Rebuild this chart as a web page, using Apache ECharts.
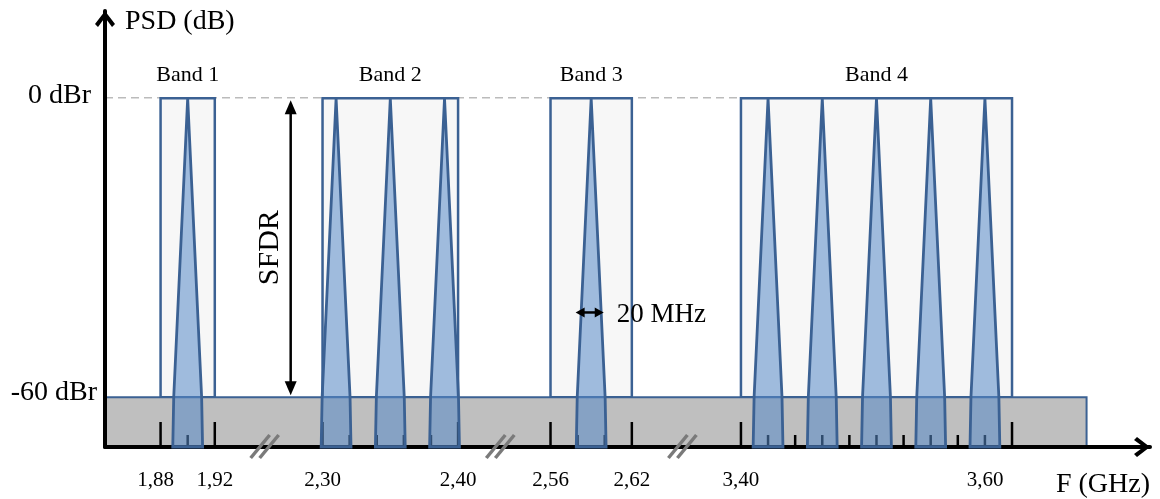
<!DOCTYPE html>
<html><head><meta charset="utf-8">
<script src="https://cdn.jsdelivr.net/npm/echarts@6/dist/echarts.min.js"></script>
<style>html,body{margin:0;padding:0;background:#fff}#c{width:1160px;height:499px}</style>
</head><body><div id="c"></div>
<script>
// ---------------- data ----------------
const bandNames = ['Band 1', 'Band 2', 'Band 3', 'Band 4'];
const bandStartGHz = [1.88, 2.30, 2.56, 3.40];
const bandEndGHz = [1.92, 2.40, 2.62, 3.60];
const carrierGHz = [1.90, 2.31, 2.35, 2.39, 2.59, 3.42, 3.46, 3.50, 3.54, 3.58];
const majorTickGHz = [1.88, 1.92, 2.30, 2.40, 2.56, 2.62, 3.40, 3.60];
const majorTickLabels = ['1,88', '1,92', '2,30', '2,40', '2,56', '2,62', '3,40', '3,60'];
const minorTickGHz = [1.90, 2.32, 2.34, 2.36, 2.38, 2.58, 2.60, 3.42, 3.44, 3.46, 3.48, 3.50, 3.52, 3.54, 3.56, 3.58];
const levelLabels = ['0 dBr', '-60 dBr'];
const levelValuesDB = [0, -60];
const carrierTopDB = 0, floorDB = -60, axisBottomDB = -70;
const carrierHalfWidthAtFloorMHz = 10.3, carrierHalfWidthAtBottomMHz = 11;
const noiseFloorEndGHz = 3.655;
const spacingMarkerGHz = 2.59, spacingMarkerMHz = 20, spacingMarkerDB = -43;
const spacingLabel = '20 MHz', sfdrLabel = 'SFDR';

// ---------------- broken-axis layout ----------------
const segments = [
  {lo: 1.7, hi: 2.1, f0: 1.88, u0: 41},
  {lo: 2.1, hi: 2.5, f0: 2.30, u0: 160.5},
  {lo: 2.5, hi: 3.0, f0: 2.56, u0: 328.7},
  {lo: 3.0, hi: 4.0, f0: 3.40, u0: 469.2}
];
function toAxis(f) {
  const s = segments.find(s => f >= s.lo && f < s.hi);
  return s.u0 + (f - s.f0) * 1000;
}
const breakAxis = [];
for (let i = 0; i < bandStartGHz.length - 1; i++) {
  breakAxis.push((toAxis(bandEndGHz[i]) + toAxis(bandStartGHz[i + 1])) / 2);
}
const sfdrAxisX = 137;
const labelNudgePx = {'1,88': -5, '3,60': -27};
const levelNudgePx = {'0 dBr': [-14, -3], '-60 dBr': [-8, -5]};

const SERIF = '"Liberation Serif","Times New Roman",serif';
const BLUE = '#3b6193';
const chevron = 'path://M0,13 L10,0 L20,13 L17,16 L10,6.5 L3,16 Z';

function txt(x, y, text, size, align, valign, extra) {
  return Object.assign({
    type: 'text', x: x, y: y,
    style: {text: text, font: size + 'px ' + SERIF, fill: '#000',
      textAlign: align, textVerticalAlign: valign, align: align, verticalAlign: valign}
  }, extra || {});
}

const chart = echarts.init(document.getElementById('c'), null, {renderer: 'canvas'});
chart.setOption({
  animation: false,
  grid: {left: 105, right: 10, top: 11, bottom: 49},
  xAxis: {
    type: 'value', min: 0, max: 771, z: 2,
    name: 'F (GHz)', nameLocation: 'end', nameGap: 0,
    nameTextStyle: {fontFamily: SERIF, fontSize: 28, color: '#000', align: 'right', verticalAlign: 'top', padding: [24, 0, 0, 0]},
    axisLine: {show: true, onZero: false, lineStyle: {color: '#000', width: 4},
      symbol: ['none', chevron], symbolSize: [20, 17], symbolOffset: [0, -8]},
    axisTick: {show: false}, axisLabel: {show: false}, splitLine: {show: false}
  },
  yAxis: {
    type: 'value', min: axisBottomDB, max: 17.5, z: 2,
    name: 'PSD (dB)', nameLocation: 'end', nameGap: -11,
    nameTextStyle: {fontFamily: SERIF, fontSize: 28, color: '#000', align: 'left', verticalAlign: 'middle', padding: [0, 0, 0, 20]},
    axisLine: {show: true, onZero: false, lineStyle: {color: '#000', width: 4},
      symbol: ['none', chevron], symbolSize: [20, 17], symbolOffset: [0, -8]},
    axisTick: {show: false}, axisLabel: {show: false}, splitLine: {show: false}
  },
  series: [
    // 0 dBr dashed reference
    {type: 'custom', z: 1, silent: true, data: [[0, toAxis(bandEndGHz[bandEndGHz.length - 1])]],
      renderItem(p, api) {
        const a = api.coord([api.value(0), carrierTopDB]), b = api.coord([api.value(1), carrierTopDB]);
        return {type: 'line', shape: {x1: a[0], y1: a[1] - 0.5, x2: b[0], y2: b[1] - 0.5},
          style: {stroke: '#bbbbbb', lineWidth: 1.5, lineDash: [8, 5]}};
      }},
    // bands
    {type: 'custom', z: 1, silent: true,
      data: bandNames.map((n, i) => [toAxis(bandStartGHz[i]), toAxis(bandEndGHz[i]), i]),
      renderItem(p, api) {
        const a = api.coord([api.value(0), carrierTopDB]), b = api.coord([api.value(1), floorDB]);
        return {type: 'group', children: [
          {type: 'rect', shape: {x: a[0], y: a[1], width: b[0] - a[0], height: b[1] - a[1]},
            style: {fill: '#f7f7f7', stroke: BLUE, lineWidth: 2.5}},
          txt((a[0] + b[0]) / 2, a[1] - 23, bandNames[api.value(2)], 22, 'center', 'middle')
        ]};
      }},
    // noise floor
    {type: 'custom', z: 1, silent: true, data: [[0, toAxis(noiseFloorEndGHz)]],
      renderItem(p, api) {
        const a = api.coord([api.value(0), floorDB]), b = api.coord([api.value(1), axisBottomDB]);
        return {type: 'group', children: [
          {type: 'rect', shape: {x: a[0], y: a[1], width: b[0] - a[0], height: b[1] - a[1]}, style: {fill: '#bfbfbf'}},
          {type: 'polyline', shape: {points: [[a[0], a[1]], [b[0], a[1]], [b[0], b[1]]]},
            style: {fill: null, stroke: BLUE, lineWidth: 2}}
        ]};
      }},
    // ticks
    {type: 'custom', z: 1, silent: true,
      data: majorTickGHz.map(f => [toAxis(f), 1]).concat(minorTickGHz.map(f => [toAxis(f), 0])),
      renderItem(p, api) {
        const a = api.coord([api.value(0), axisBottomDB]);
        const len = api.value(1) ? 25 : 12;
        return {type: 'line', shape: {x1: a[0], y1: a[1], x2: a[0], y2: a[1] - len},
          style: {stroke: '#000', lineWidth: 2.5}};
      }},
    // carriers
    {type: 'custom', z: 3, silent: true, data: carrierGHz.map(f => [toAxis(f)]),
      renderItem(p, api) {
        const u = api.value(0);
        const pts = [
          api.coord([u, carrierTopDB]),
          api.coord([u + carrierHalfWidthAtFloorMHz, floorDB]),
          api.coord([u + carrierHalfWidthAtBottomMHz, axisBottomDB]),
          api.coord([u - carrierHalfWidthAtBottomMHz, axisBottomDB]),
          api.coord([u - carrierHalfWidthAtFloorMHz, floorDB])
        ];
        return {type: 'polygon', shape: {points: pts},
          style: {fill: 'rgba(88,138,200,0.55)', stroke: BLUE, lineWidth: 2.8, lineJoin: 'miter'}};
      }},
    // annotations: SFDR and 20 MHz
    {type: 'custom', z: 4, silent: true, data: [[sfdrAxisX, toAxis(spacingMarkerGHz)]],
      renderItem(p, api) {
        const s0 = api.coord([api.value(0), carrierTopDB]), s1 = api.coord([api.value(0), floorDB]);
        const x = s0[0], y0 = s0[1] + 2, y1 = s1[1] - 2;
        const c = api.value(1);
        const m0 = api.coord([c - spacingMarkerMHz / 2, spacingMarkerDB]);
        const m1 = api.coord([c + spacingMarkerMHz / 2, spacingMarkerDB]);
        const my = m0[1], mx0 = m0[0] - 2, mx1 = m1[0] - 1;
        return {type: 'group', children: [
          {type: 'line', shape: {x1: x, y1: y0 + 10, x2: x, y2: y1 - 10}, style: {stroke: '#000', lineWidth: 2.5}},
          {type: 'polygon', shape: {points: [[x, y0], [x - 6, y0 + 14], [x + 6, y0 + 14]]}, style: {fill: '#000'}},
          {type: 'polygon', shape: {points: [[x, y1], [x - 6, y1 - 14], [x + 6, y1 - 14]]}, style: {fill: '#000'}},
          txt(x - 21, (y0 + y1) / 2, sfdrLabel, 30, 'center', 'middle', {rotation: Math.PI / 2}),
          {type: 'line', shape: {x1: mx0 + 6, y1: my, x2: mx1 - 6, y2: my}, style: {stroke: '#000', lineWidth: 2.5}},
          {type: 'polygon', shape: {points: [[mx0, my], [mx0 + 9, my - 5], [mx0 + 9, my + 5]]}, style: {fill: '#000'}},
          {type: 'polygon', shape: {points: [[mx1, my], [mx1 - 9, my - 5], [mx1 - 9, my + 5]]}, style: {fill: '#000'}},
          txt(mx1 + 13, my + 2, spacingLabel, 27, 'left', 'middle')
        ]};
      }},
    // axis break marks
    {type: 'custom', z: 5, silent: true, data: breakAxis.map(u => [u]),
      renderItem(p, api) {
        const a = api.coord([api.value(0), axisBottomDB]);
        const cx = a[0] - 4, cy = a[1];
        const st = {stroke: '#7a7a7a', lineWidth: 3.5};
        return {type: 'group', children: [
          {type: 'line', shape: {x1: cx - 14, y1: cy + 11, x2: cx + 5, y2: cy - 12}, style: st},
          {type: 'line', shape: {x1: cx - 5, y1: cy + 11, x2: cx + 14, y2: cy - 12}, style: st}
        ]};
      }},
    // x tick labels
    {type: 'custom', z: 5, silent: true, data: majorTickGHz.map((f, i) => [toAxis(f), i]),
      renderItem(p, api) {
        const a = api.coord([api.value(0), axisBottomDB]);
        const t = majorTickLabels[api.value(1)];
        return txt(a[0] + (labelNudgePx[t] || 0), a[1] + 33, t, 21, 'center', 'middle');
      }},
    // level labels
    {type: 'custom', z: 5, silent: true, data: levelValuesDB.map((v, i) => [0, v, i]),
      renderItem(p, api) {
        const a = api.coord([api.value(0), api.value(1)]);
        const t = levelLabels[api.value(2)];
        const n = levelNudgePx[t] || [-10, -3];
        return txt(a[0] + n[0], a[1] + n[1], t, 28, 'right', 'middle');
      }}
  ]
});
</script></body></html>
